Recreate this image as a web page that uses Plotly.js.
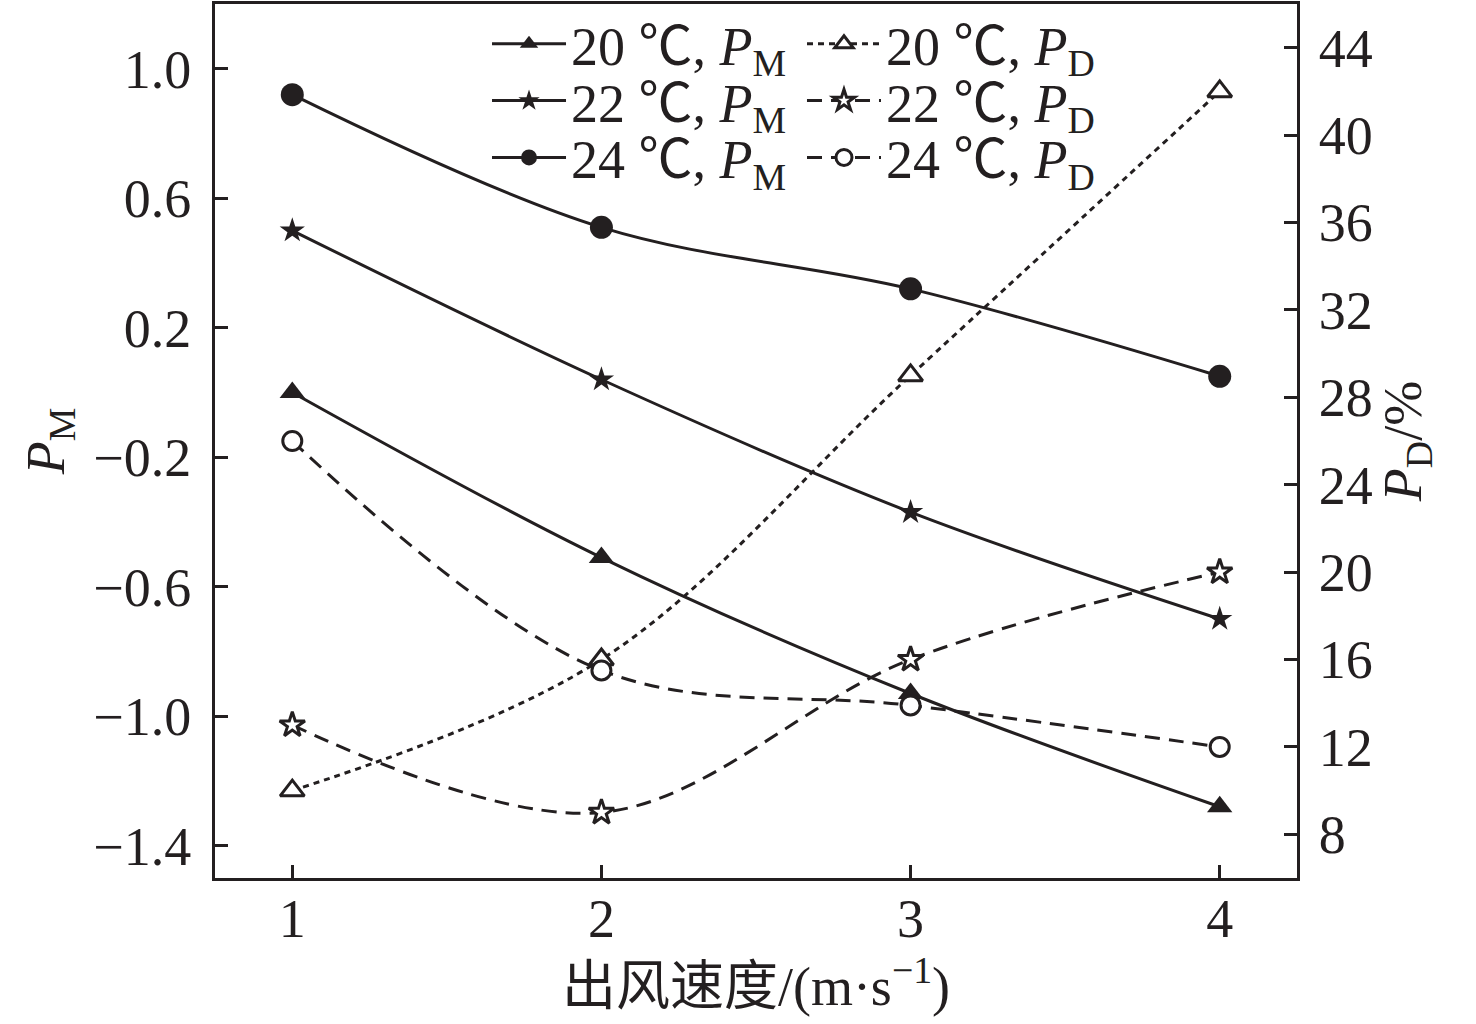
<!DOCTYPE html>
<html>
<head>
<meta charset="utf-8">
<script src="https://cdn.plot.ly/plotly-3.0.1.min.js"></script>
<style>html,body{margin:0;padding:0;background:#fff;}#chart{width:1476px;height:1024px;}</style>
</head>
<body>
<div id="chart"></div>
<script>
// ---- data ----
const windSpeed = [1, 2, 3, 4];
const pm20 = [0.00, -0.51, -0.93, -1.28];
const pm22 = [0.50, 0.04, -0.37, -0.70];
const pm24 = [0.92, 0.51, 0.32, 0.05];
const pd20 = [10, 16, 29, 42];
const pd22 = [13, 9, 16, 20];
const pd24 = [26, 15.5, 13.9, 12];
const temps = ['20', '22', '24'];
const xTickVals = [1, 2, 3, 4];
const yTickVals = [-1.4, -1.0, -0.6, -0.2, 0.2, 0.6, 1.0];
const y2TickVals = [8, 12, 16, 20, 24, 28, 32, 36, 40, 44];

const INK = '#231f20';
const FS = 54;
const FONT = '"Liberation Serif", "Times New Roman", "Noto Sans CJK SC", serif';
const DEG = '<span style="font-family:Noto Sans CJK SC">℃</span>';
function label(t, sub) { return t + ' ' + DEG + ', <i>P</i><sub>' + sub + '</sub>'; }

function tr(y, name, sym, size, dash, yaxis, legend, open) {
  return {
    x: windSpeed, y: y, name: name, type: 'scatter', mode: 'lines+markers',
    yaxis: yaxis, legend: legend,
    line: {color: INK, width: 3, dash: dash, shape: 'spline', smoothing: 1},
    marker: {symbol: sym, size: size, color: open ? '#ffffff' : INK,
             line: {color: INK, width: open ? 3 : 0}}
  };
}

const traces = [
  tr(pm20, label(temps[0], 'M'), 'triangle-up', 22, 'solid', 'y', 'legend', false),
  tr(pd20, label(temps[0], 'D'), 'triangle-up', 21, '6px,5px', 'y2', 'legend2', true),
  tr(pm22, label(temps[1], 'M'), 'star', 19, 'solid', 'y', 'legend3', false),
  tr(pd22, label(temps[1], 'D'), 'star', 19, '15px,9px', 'y2', 'legend4', true),
  tr(pm24, label(temps[2], 'M'), 'circle', 23, 'solid', 'y', 'legend5', false),
  tr(pd24, label(temps[2], 'D'), 'circle', 19, '15px,9px', 'y2', 'legend6', true)
];

function leg(x, y) {
  return {x: x, y: y, xanchor: 'left', yanchor: 'middle', bgcolor: 'rgba(0,0,0,0)',
          borderwidth: 0, font: {family: FONT, size: FS, color: INK}, itemwidth: 74,
          tracegroupgap: 0};
}
const lx1 = 0.2514, lx2 = 0.5425;
const ly = [0.954, 0.889, 0.824];

const layout = {
  width: 1476, height: 1024,
  margin: {l: 215, r: 179, t: 2, b: 146},
  paper_bgcolor: '#ffffff', plot_bgcolor: '#ffffff',
  font: {family: FONT, size: FS, color: INK},
  xaxis: {
    range: [0.75, 4.25], tickvals: xTickVals, ticks: 'inside', ticklen: 13, tickwidth: 3,
    tickcolor: INK, showline: true, linecolor: INK, linewidth: 3, mirror: true,
    showgrid: false, zeroline: false, tickfont: {size: FS}, ticklabelstandoff: -9,
    title: {text: '出风速度/(m·s<sup>−1</sup>)', font: {size: FS}, standoff: 12}
  },
  yaxis: {
    range: [-1.5, 1.2], tickvals: yTickVals, tickformat: '.1f', ticks: 'inside', ticklen: 13,
    tickwidth: 3, tickcolor: INK, showline: true, linecolor: INK, linewidth: 3,
    showgrid: false, zeroline: false, tickfont: {size: FS}, ticklabelstandoff: 10,
    title: {text: '<i>P</i><sub>M</sub>', font: {size: FS}, standoff: 12}
  },
  yaxis2: {
    range: [6, 46], tickvals: y2TickVals, overlaying: 'y', side: 'right', ticks: 'inside',
    ticklen: 13, tickwidth: 3, tickcolor: INK, showline: true, linecolor: INK, linewidth: 3,
    showgrid: false, zeroline: false, tickfont: {size: FS}, ticklabelstandoff: 8,
    title: {text: '<i>P</i><sub>D</sub>/%', font: {size: FS}, standoff: 10}
  },
  legend: leg(lx1, ly[0]), legend2: leg(lx2, ly[0]),
  legend3: leg(lx1, ly[1]), legend4: leg(lx2, ly[1]),
  legend5: leg(lx1, ly[2]), legend6: leg(lx2, ly[2]),
  showlegend: true
};

Plotly.newPlot('chart', traces, layout, {displayModeBar: false, staticPlot: true});
</script>
</body>
</html>
